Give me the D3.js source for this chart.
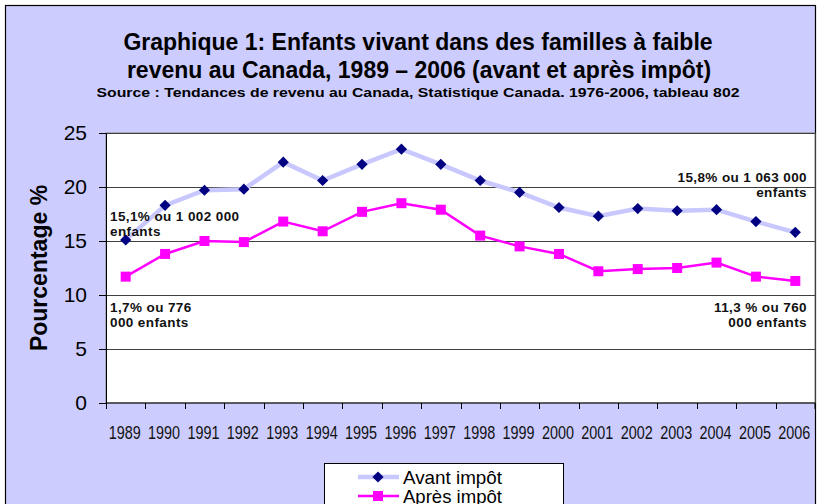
<!DOCTYPE html>
<html>
<head>
<meta charset="utf-8">
<script src="https://cdn.jsdelivr.net/npm/d3@7"></script>
<style>
  body { margin: 0; background: #fff; }
  svg { display: block; font-family: "Liberation Sans", Arial, sans-serif; }
</style>
</head>
<body>
<svg id="chart" width="817" height="504"></svg>
<script>
// years and the two series (% of children in low income families)
var years = ["1989","1990","1991","1992","1993","1994","1995","1996","1997","1998","1999","2000","2001","2002","2003","2004","2005","2006"];
var avantImpot = [15.1, 18.3, 19.7, 19.8, 22.3, 20.6, 22.1, 23.5, 22.1, 20.6, 19.5, 18.1, 17.3, 18.0, 17.8, 17.9, 16.8, 15.8];
var apresImpot = [11.7, 13.8, 15.0, 14.9, 16.8, 15.9, 17.7, 18.5, 17.9, 15.5, 14.5, 13.8, 12.2, 12.4, 12.5, 13.0, 11.7, 11.3];
var yTicks = [0, 5, 10, 15, 20, 25];
var seriesNames = ["Avant impôt", "Après impôt"];

var svg = d3.select("#chart");

// outer frame
svg.append("rect").attr("x", 5.5).attr("y", 5.5).attr("width", 810).attr("height", 520)
  .attr("fill", "#ccccff").attr("stroke", "#000").attr("stroke-width", 1.2);

// title
var title = svg.append("g").attr("font-weight", "bold").attr("text-anchor", "middle").attr("fill", "#000");
title.append("text").attr("x", 418).attr("y", 50).attr("font-size", 23)
  .text("Graphique 1: Enfants vivant dans des familles à faible");
title.append("text").attr("x", 419).attr("y", 78).attr("font-size", 23)
  .text("revenu au Canada, 1989 – 2006 (avant et après impôt)");
title.append("text").attr("x", 418).attr("y", 97).attr("font-size", 13.5)
  .attr("textLength", 643).attr("lengthAdjust", "spacingAndGlyphs")
  .text("Source : Tendances de revenu au Canada, Statistique Canada. 1976-2006, tableau 802");

// plot area
var pLeft = 106, pRight = 815, pTop = 133, pBottom = 403;

var x = d3.scaleBand().domain(years).range([pLeft, pRight]);
var y = d3.scaleLinear().domain([0, 25]).range([pBottom, pTop]);

svg.append("rect").attr("x", pLeft).attr("y", pTop).attr("width", pRight - pLeft).attr("height", pBottom - pTop)
  .attr("fill", "#fff").attr("stroke", "#808080");

// gridlines
svg.append("g").selectAll("line").data(yTicks.filter(function(d){ return d > 0; }))
  .enter().append("line")
  .attr("x1", pLeft).attr("x2", pRight)
  .attr("y1", function(d){ return Math.round(y(d)) + 0.5; })
  .attr("y2", function(d){ return Math.round(y(d)) + 0.5; })
  .attr("stroke", "#404040").attr("stroke-width", 1);

// y axis
var yAxis = svg.append("g").attr("transform", "translate(" + pLeft + ",0)")
  .call(d3.axisLeft(y).tickValues(yTicks).tickSize(7).tickPadding(12));
yAxis.select(".domain").attr("stroke", "#000");
yAxis.selectAll("text").attr("font-size", 21).attr("font-family", "Liberation Sans, Arial, sans-serif").attr("fill", "#000");

// x axis: ticks between categories
var xAxis = svg.append("g").attr("transform", "translate(0," + pBottom + ")");
xAxis.append("line").attr("x1", pLeft).attr("x2", pRight).attr("stroke", "#000");
xAxis.selectAll(".tk").data(years.concat(["end"])).enter().append("line")
  .attr("x1", function(d, i){ return i < years.length ? Math.round(x(d)) + 0.5 : pRight; })
  .attr("x2", function(d, i){ return i < years.length ? Math.round(x(d)) + 0.5 : pRight; })
  .attr("y1", 0).attr("y2", 6).attr("stroke", "#000");
xAxis.selectAll(".lbl").data(years).enter().append("text")
  .attr("x", function(d){ return x(d) + x.bandwidth() / 2 - 1; })
  .attr("y", 36)
  .attr("text-anchor", "middle")
  .attr("font-size", 18.5)
  .attr("textLength", 32).attr("lengthAdjust", "spacingAndGlyphs")
  .attr("fill", "#111")
  .text(function(d){ return d; });

// y axis title
svg.append("text").attr("transform", "translate(47,268) rotate(-90)")
  .attr("text-anchor", "middle").attr("font-weight", "bold").attr("font-size", 23)
  .text("Pourcentage %");

// lines
var cx = function(d, i){ return x(years[i]) + x.bandwidth() / 2; };
var line = d3.line().x(cx).y(function(d){ return y(d); });

svg.append("path").datum(avantImpot).attr("d", line)
  .attr("fill", "none").attr("stroke", "#c8c8ff").attr("stroke-width", 4.5);
svg.append("path").datum(apresImpot).attr("d", line)
  .attr("fill", "none").attr("stroke", "#ff00ff").attr("stroke-width", 2.5);

var diamond = d3.symbol().type(d3.symbolDiamond2).size(80);
svg.append("g").selectAll("path").data(avantImpot).enter().append("path")
  .attr("d", diamond)
  .attr("transform", function(d, i){ return "translate(" + cx(d, i) + "," + y(d) + ")"; })
  .attr("fill", "#000080");
svg.append("g").selectAll("rect").data(apresImpot).enter().append("rect")
  .attr("x", function(d, i){ return cx(d, i) - 5; })
  .attr("y", function(d){ return y(d) - 5; })
  .attr("width", 10).attr("height", 10)
  .attr("fill", "#ff00ff");

// annotations
var notes = svg.append("g").attr("font-weight", "bold").attr("font-size", 13.5).attr("fill", "#111")
  .attr("letter-spacing", 0.4);
notes.append("text").attr("x", 110).attr("y", 221).text("15,1% ou 1 002 000");
notes.append("text").attr("x", 110).attr("y", 236).text("enfants");
notes.append("text").attr("x", 110).attr("y", 312).text("1,7% ou 776");
notes.append("text").attr("x", 110).attr("y", 327).text("000 enfants");
notes.append("text").attr("x", 807).attr("y", 182).attr("text-anchor", "end").text("15,8% ou 1 063 000");
notes.append("text").attr("x", 807).attr("y", 197).attr("text-anchor", "end").text("enfants");
notes.append("text").attr("x", 807).attr("y", 312).attr("text-anchor", "end").text("11,3 % ou 760");
notes.append("text").attr("x", 807).attr("y", 327).attr("text-anchor", "end").text("000 enfants");

// legend
var lg = svg.append("g");
lg.append("rect").attr("x", 324.5).attr("y", 463.5).attr("width", 239).attr("height", 60)
  .attr("fill", "#fff").attr("stroke", "#000");
var rows = [
  { name: seriesNames[0], color: "#c8c8ff", width: 4.5, mark: "diamond", markColor: "#000080", yy: 477 },
  { name: seriesNames[1], color: "#ff00ff", width: 2.5, mark: "square", markColor: "#ff00ff", yy: 496 }
];
rows.forEach(function(r){
  lg.append("line").attr("x1", 358).attr("x2", 399).attr("y1", r.yy).attr("y2", r.yy)
    .attr("stroke", r.color).attr("stroke-width", r.width);
  if (r.mark === "diamond") {
    lg.append("path").attr("d", diamond).attr("transform", "translate(378," + r.yy + ")").attr("fill", r.markColor);
  } else {
    lg.append("rect").attr("x", 373).attr("y", r.yy - 5).attr("width", 10).attr("height", 10).attr("fill", r.markColor);
  }
  lg.append("text").attr("x", 403).attr("y", r.yy + 7).attr("font-size", 18.5).attr("fill", "#000")
    .attr("textLength", 99).attr("lengthAdjust", "spacingAndGlyphs")
    .text(r.name);
});
</script>
</body>
</html>
